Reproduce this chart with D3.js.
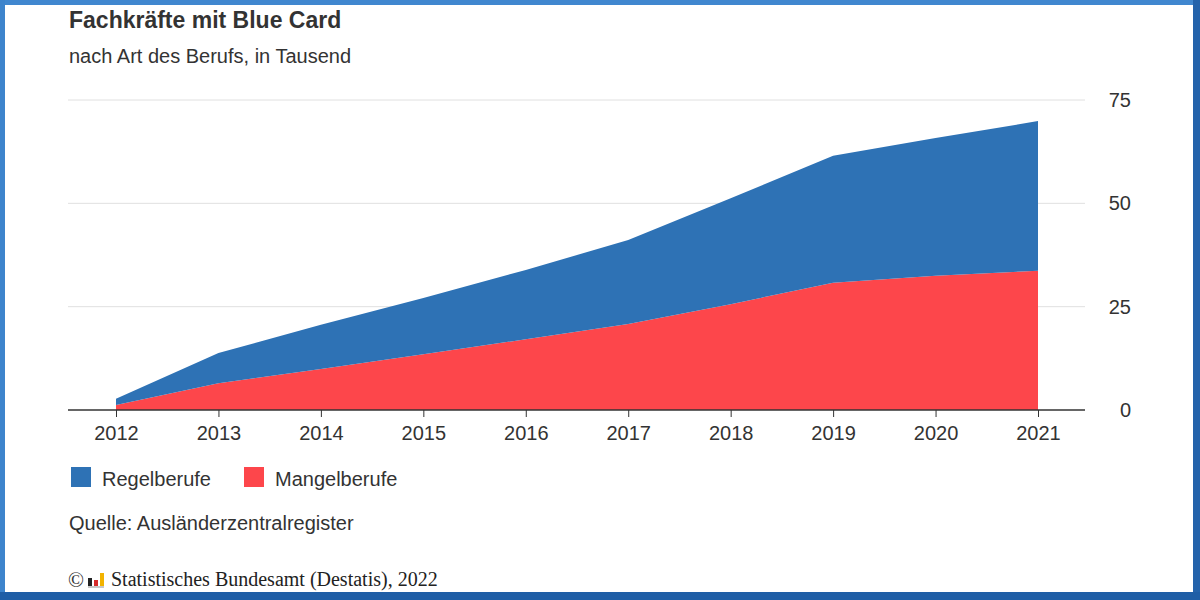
<!DOCTYPE html>
<html>
<head>
<meta charset="utf-8">
<script src="https://cdn.jsdelivr.net/npm/d3@7"></script>
<style>
  html, body { margin: 0; padding: 0; background: #fff; }
  svg { display: block; font-family: "Liberation Sans", Arial, sans-serif; }
</style>
</head>
<body>
<div id="chart"></div>
<script>
// Daten (in Tausend)
const years = [2012, 2013, 2014, 2015, 2016, 2017, 2018, 2019, 2020, 2021];
const mangelberufe = [1.2, 6.5, 9.9, 13.5, 17.1, 20.8, 25.6, 30.8, 32.5, 33.7];
const regelberufe = [1.5, 7.3, 10.7, 13.6, 16.8, 20.3, 25.6, 30.7, 33.3, 36.2];
const yTicks = [0, 25, 50, 75];
const seriesNames = ["Regelberufe", "Mangelberufe"];
const seriesColors = ["#2e72b5", "#fd464b"];

const width = 1200, height = 600;

const svg = d3.select('#chart').append('svg')
    .attr('width', width)
    .attr('height', height);

// Rahmen
svg.append('rect').attr('x', 0).attr('y', 0).attr('width', width).attr('height', height).attr('fill', '#fff');
svg.append('rect').attr('x', 0).attr('y', 0).attr('width', width).attr('height', 5).attr('fill', '#4087cf');
svg.append('rect').attr('x', 0).attr('y', 0).attr('width', 5).attr('height', height).attr('fill', '#3d84cc');
svg.append('rect').attr('x', width - 7).attr('y', 0).attr('width', 7).attr('height', height).attr('fill', '#2463ab');
svg.append('rect').attr('x', 0).attr('y', height - 8).attr('width', width).attr('height', 8).attr('fill', '#1f5ea6');

// Titel
svg.append('text')
    .attr('x', 69).attr('y', 28)
    .style('font-size', '23px').style('font-weight', 'bold')
    .attr('fill', '#333')
    .text('Fachkräfte mit Blue Card');

svg.append('text')
    .attr('x', 69).attr('y', 63)
    .style('font-size', '20px')
    .attr('fill', '#333')
    .text('nach Art des Berufs, in Tausend');

// Skalen
const x = d3.scaleLinear()
    .domain([2012, 2021])
    .range([116, 1038]);

const y = d3.scaleLinear()
    .domain([0, 75])
    .range([410, 100]);

// Gitterlinien
svg.append('g')
    .selectAll('line')
    .data(yTicks.filter(d => d > 0))
    .join('line')
    .attr('x1', 68).attr('x2', 1085)
    .attr('y1', d => y(d)).attr('y2', d => y(d))
    .attr('stroke', '#e0e0e0')
    .attr('stroke-width', 1);

// Gestapelte Flächen
const table = years.map((yr, i) => ({ year: yr, Mangelberufe: mangelberufe[i], Regelberufe: regelberufe[i] }));
const stack = d3.stack().keys(["Mangelberufe", "Regelberufe"]);
const stacked = stack(table);

const area = d3.area()
    .x(d => x(d.data.year))
    .y0(d => y(d[0]))
    .y1(d => y(d[1]));

const color = d3.scaleOrdinal().domain(seriesNames).range(seriesColors);

svg.append('g')
    .selectAll('path')
    .data(stacked)
    .join('path')
    .attr('fill', d => color(d.key))
    .attr('d', area);

// x-Achse
const xAxis = svg.append('g')
    .attr('transform', `translate(0,${y(0)})`);
xAxis.append('line')
    .attr('x1', 68).attr('x2', 1085)
    .attr('stroke', '#333').attr('stroke-width', 1.3);
xAxis.call(d3.axisBottom(x).tickValues(years).tickFormat(d3.format('d')).tickSize(7).tickPadding(9))
    .call(g => g.select('.domain').remove())
    .call(g => g.selectAll('.tick line').attr('stroke', '#333'))
    .call(g => g.selectAll('.tick text')
        .attr('fill', '#333')
        .style('font-size', '20px')
        .style('font-family', '"Liberation Sans", Arial, sans-serif'));

// y-Achse rechts
svg.append('g')
    .selectAll('text')
    .data(yTicks)
    .join('text')
    .attr('x', 1131)
    .attr('y', d => y(d) + 7)
    .attr('text-anchor', 'end')
    .attr('fill', '#333')
    .style('font-size', '20px')
    .text(d => d);

// Legende
const legend = svg.append('g').attr('transform', 'translate(71,467)');
const legendX = [0, 173];
seriesNames.forEach((name, i) => {
    const g = legend.append('g').attr('transform', `translate(${legendX[i]},0)`);
    g.append('rect').attr('width', 20).attr('height', 20).attr('fill', color(name));
    g.append('text')
        .attr('x', 31).attr('y', 19)
        .attr('fill', '#333')
        .style('font-size', '20px')
        .text(name);
});

// Quelle
svg.append('text')
    .attr('x', 69).attr('y', 530)
    .attr('fill', '#333')
    .style('font-size', '20px')
    .text('Quelle: Ausländerzentralregister');

// Copyright
svg.append('text')
    .attr('x', 68).attr('y', 587)
    .attr('fill', '#333')
    .style('font-family', '"Liberation Serif", "Times New Roman", serif')
    .style('font-size', '21px')
    .text('©');

const logo = svg.append('g').attr('transform', 'translate(88,573)');
logo.append('rect').attr('x', 0).attr('y', 5).attr('width', 4).attr('height', 8).attr('fill', '#222');
logo.append('rect').attr('x', 6).attr('y', 7).attr('width', 4).attr('height', 6).attr('fill', '#d62a2a');
logo.append('rect').attr('x', 12).attr('y', 0).attr('width', 4).attr('height', 13).attr('fill', '#f2b300');
logo.append('rect').attr('x', 0).attr('y', 13).attr('width', 16).attr('height', 2).attr('fill', '#c8c8c8');

svg.append('text')
    .attr('x', 111).attr('y', 586)
    .attr('fill', '#222')
    .style('font-family', '"Liberation Serif", "Times New Roman", serif')
    .style('font-size', '20px')
    .text('Statistisches Bundesamt (Destatis), 2022');
</script>
</body>
</html>
